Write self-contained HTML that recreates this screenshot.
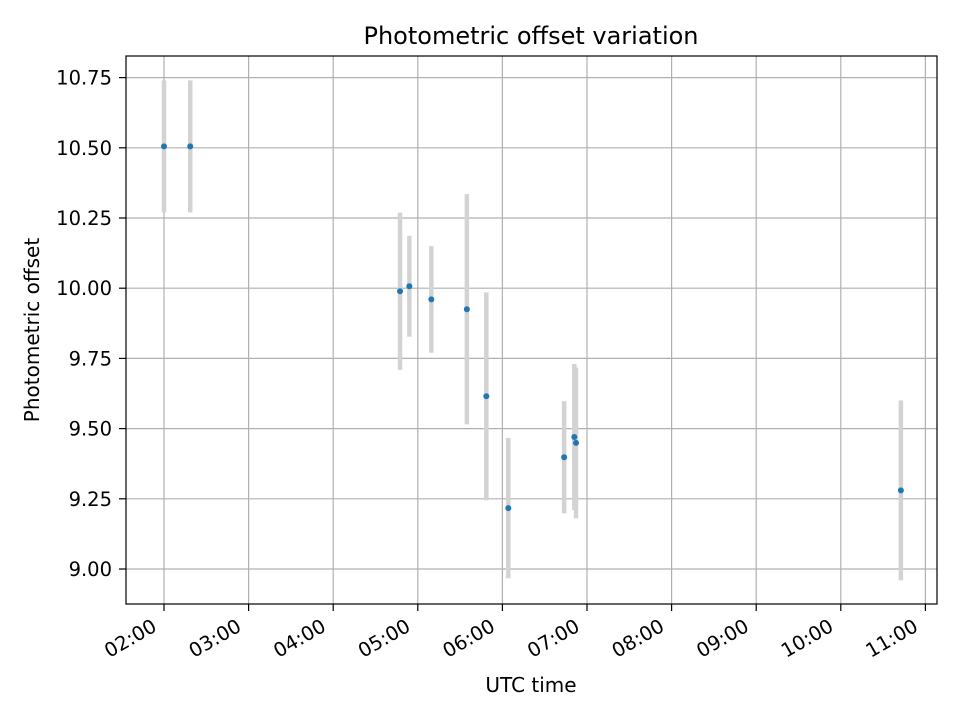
<!DOCTYPE html>
<html><head><meta charset="utf-8"><style>
body{margin:0;background:#fff;}
svg{font-family:"DejaVu Sans","Liberation Sans",sans-serif;}
</style></head><body>
<svg id="chart" width="960" height="720" viewBox="0 0 960 720" xmlns="http://www.w3.org/2000/svg">
<rect width="960" height="720" fill="#fff"/>
<g id="grid"></g>
<g id="errs"></g>
<g id="pts"></g>
<rect x="126" y="56" width="811" height="548" fill="none" stroke="#000" stroke-width="1.2"/>
<g id="xt"></g>
<g id="yt"></g>
<text x="531" y="44" font-size="24" text-anchor="middle">Photometric offset variation</text>
<text x="531" y="692" font-size="20" text-anchor="middle">UTC time</text>
<text x="39" y="330" font-size="20" text-anchor="middle" transform="rotate(-90 39 330)">Photometric offset</text>
</svg>
<script>
const times=[2.0,2.31,4.79,4.90,5.16,5.58,5.81,6.07,6.73,6.85,6.87,10.71];
const offsets=[10.505,10.505,9.989,10.007,9.96,9.925,9.615,9.217,9.398,9.47,9.449,9.28];
const errors=[0.235,0.235,0.28,0.18,0.19,0.41,0.37,0.25,0.20,0.26,0.268,0.32];
const xTicks=[2,3,4,5,6,7,8,9,10,11];
const xTickLabels=["02:00","03:00","04:00","05:00","06:00","07:00","08:00","09:00","10:00","11:00"];
const yTicks=[9.0,9.25,9.5,9.75,10.0,10.25,10.5,10.75];
const yTickLabels=["9.00","9.25","9.50","9.75","10.00","10.25","10.50","10.75"];
const NS="http://www.w3.org/2000/svg";
const X=h=>164+(h-2)*84.6;
const Y=v=>569-(v-9)*280.8;
function mk(tag,attrs,parent){const e=document.createElementNS(NS,tag);for(const k in attrs)e.setAttribute(k,attrs[k]);parent.appendChild(e);return e;}
const grid=document.getElementById('grid'),xt=document.getElementById('xt'),yt=document.getElementById('yt');
xTicks.forEach((t,i)=>{const x=X(t);
 const g=mk('line',{x1:x,x2:x,y1:56,y2:604,stroke:'#b0b0b0','stroke-width':1.2},grid);
 
 const tk=mk('line',{x1:x,x2:x,y1:604,y2:611,stroke:'#000','stroke-width':1.2},xt);
 
 const px=x-6,py=630;
 const tx=mk('text',{x:px,y:py,'font-size':19.5,'text-anchor':'end',transform:`rotate(-30 ${px} ${py})`},xt);
 tx.textContent=xTickLabels[i];
 
});
yTicks.forEach((t,i)=>{const y=Y(t);
 const g=mk('line',{x1:126,x2:937,y1:y,y2:y,stroke:'#b0b0b0','stroke-width':1.2},grid);
 
 const tk=mk('line',{x1:119,x2:126,y1:y,y2:y,stroke:'#000','stroke-width':1.2},yt);
 
 const tx=mk('text',{x:112,y:y+7,'font-size':19.5,'text-anchor':'end'},yt);
 tx.textContent=yTickLabels[i];
 
});
const errs=document.getElementById('errs'),pts=document.getElementById('pts');
times.forEach((t,i)=>{const x=X(t);
 const e=mk('line',{x1:x,x2:x,y1:Y(offsets[i]+errors[i]),y2:Y(offsets[i]-errors[i]),stroke:'#d3d3d3','stroke-width':4.5},errs);
 
 const c=mk('circle',{cx:x,cy:Y(offsets[i]),r:3,fill:'#1f77b4'},pts);
 
});
</script>
</body></html>
